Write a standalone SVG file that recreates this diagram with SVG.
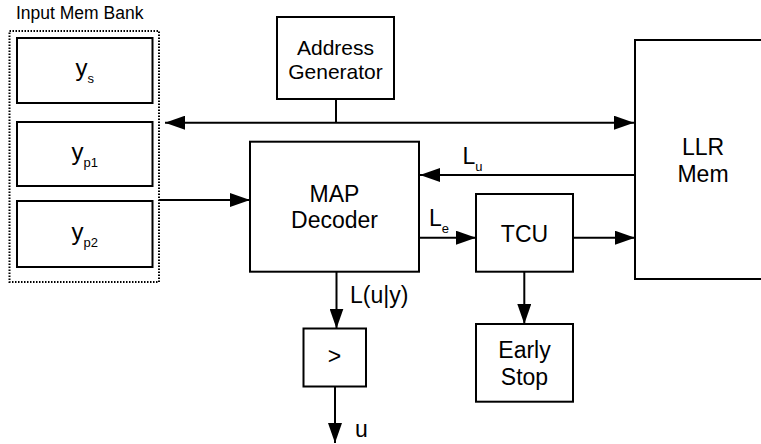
<svg xmlns="http://www.w3.org/2000/svg" width="761" height="444" viewBox="0 0 761 444">
<defs>
<style>
.box{fill:#fff;stroke:#000;stroke-width:2}
.ln{fill:none;stroke:#000;stroke-width:2}
.t{font-family:"Liberation Sans",Arial,sans-serif;font-size:23px;fill:#000}
.tc{text-anchor:middle}
.sub{font-size:13px}
</style>
<marker id="ah" viewBox="0 0 20 14" refX="20" refY="7" markerWidth="20" markerHeight="14" markerUnits="userSpaceOnUse" orient="auto-start-reverse">
<path d="M0,0 L20,7 L0,14 Z" fill="#000"/>
</marker>
</defs>
<rect width="761" height="444" fill="#fff"/>

<g id="input-mem-bank">
<text class="t" x="16" y="19" style="font-size:17.5px">Input Mem Bank</text>
<rect x="9.5" y="31" width="149.5" height="251" fill="none" stroke="#000" stroke-width="2" stroke-dasharray="1.5 1.5"/>
</g>
<g id="ys">
<rect class="box" x="17" y="38" width="135.5" height="65"/>
<text class="t tc" x="84.75" y="76" style="font-size:24px">y<tspan class="sub" dy="7">s</tspan></text>
</g>
<g id="yp1">
<rect class="box" x="17" y="122" width="135.5" height="64"/>
<text class="t tc" x="84.75" y="160" style="font-size:24px">y<tspan class="sub" dy="7">p1</tspan></text>
</g>
<g id="yp2">
<rect class="box" x="17" y="201" width="135.5" height="66"/>
<text class="t tc" x="84.75" y="240" style="font-size:24px">y<tspan class="sub" dy="7">p2</tspan></text>
</g>
<g id="address-generator">
<rect class="box" x="277" y="17" width="117" height="82"/>
<text class="t tc" x="335.5" y="55" style="font-size:21px">Address</text>
<text class="t tc" x="335.5" y="78.5" style="font-size:21px">Generator</text>
</g>
<g id="map-decoder">
<rect class="box" x="250" y="141.7" width="169" height="130"/>
<text class="t tc" x="334.5" y="202">MAP</text>
<text class="t tc" x="334.5" y="228">Decoder</text>
</g>
<g id="tcu">
<rect class="box" x="476" y="194" width="97" height="77.7"/>
<text class="t tc" x="524.5" y="241.5">TCU</text>
</g>
<g id="early-stop">
<rect class="box" x="476" y="324" width="97" height="77.7"/>
<text class="t tc" x="524.5" y="358">Early</text>
<text class="t tc" x="524.5" y="385">Stop</text>
</g>
<g id="threshold">
<rect class="box" x="303.5" y="328.5" width="62.5" height="58"/>
<text class="t tc" x="334.5" y="364">&gt;</text>
</g>
<g id="llr-mem">
<rect class="box" x="635" y="40" width="140" height="239"/>
<text class="t tc" x="703" y="155">LLR</text>
<text class="t tc" x="703" y="181.5">Mem</text>
</g>

<g id="connectors">
<line class="ln" x1="165" y1="122.7" x2="634" y2="122.7" marker-start="url(#ah)" marker-end="url(#ah)"/>
<line class="ln" x1="336" y1="99" x2="336" y2="122.7"/>
<line class="ln" x1="159" y1="200" x2="250" y2="200" marker-end="url(#ah)"/>
<line class="ln" x1="635" y1="175" x2="420" y2="175" marker-end="url(#ah)"/>
<line class="ln" x1="419" y1="237.7" x2="476" y2="237.7" marker-end="url(#ah)"/>
<line class="ln" x1="573" y1="237.7" x2="635" y2="237.7" marker-end="url(#ah)"/>
<line class="ln" x1="336.5" y1="271.7" x2="336.5" y2="328.5" marker-end="url(#ah)"/>
<line class="ln" x1="335" y1="386.5" x2="335" y2="443" marker-end="url(#ah)"/>
<line class="ln" x1="524.3" y1="271.7" x2="524.3" y2="324" marker-end="url(#ah)"/>
<text class="t" x="462.5" y="164">L<tspan class="sub" dy="6.5">u</tspan></text>
<text class="t" x="429" y="225.5">L<tspan class="sub" dy="7">e</tspan></text>
<text class="t" x="350" y="303">L(u|y)</text>
<text class="t" x="355" y="437">u</text>
</g>
</svg>
